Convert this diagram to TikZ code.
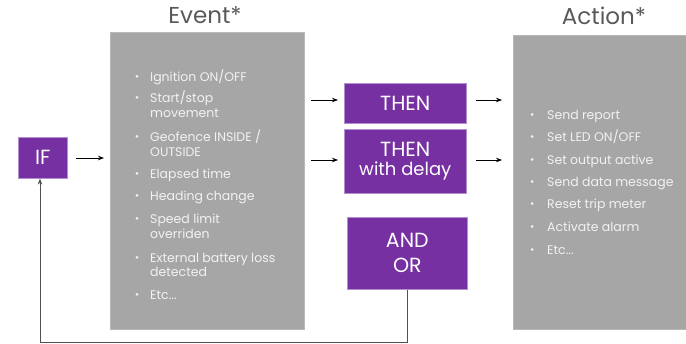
\documentclass[tikz,border=0pt]{standalone}
\usepackage{fontspec}
\setmainfont{Poppins}
\usetikzlibrary{arrows.meta}
\definecolor{boxgray}{HTML}{A6A6A6}
\definecolor{listtext}{HTML}{F2F2F2}
\definecolor{logicpurple}{HTML}{7630A2}
\definecolor{logicedge}{HTML}{B18FD0}
\definecolor{titlegray}{HTML}{595959}
\definecolor{loopgray}{HTML}{505050}
\tikzset{
  panel/.style={fill=boxgray, draw=boxgray!80!white, line width=0.5pt, inner sep=0pt},
  logic/.style={fill=logicpurple, draw=logicedge, line width=0.6pt, inner sep=0pt,
    text=white, font=\fontsize{20.5}{23}\selectfont, align=center},
  title/.style={text=titlegray, font=\fontsize{23}{26}\selectfont, anchor=base},
  item/.style={text=listtext, font=\fontsize{12.5}{15}\selectfont, anchor=base west, inner sep=0pt},
  dot/.style={circle, fill=listtext, inner sep=0pt, minimum size=3pt},
  flow/.style={-{Stealth[length=6pt,width=4.5pt]}, line width=0.8pt, black},
  loop/.style={line width=0.8pt, loopgray}
}
\begin{document}
\begin{tikzpicture}[x=1pt,y=-1pt]
\useasboundingbox (0,0) rectangle (686,344);

% panels
\node[panel, minimum width=194pt, minimum height=297pt, anchor=north west] (event) at (110,32) {};
\node[panel, minimum width=174pt, minimum height=294pt, anchor=north west] (action) at (513,35) {};
\node[title] (eventtitle) at (205,24) {Event*};
\node[title] (actiontitle) at (604,25) {Action*};

% logic blocks
\node[logic, minimum width=49pt, minimum height=41pt, anchor=north west] (if) at (18,137) {IF};
\node[logic, minimum width=122pt, minimum height=40pt, anchor=north west] (then) at (344,83) {THEN};
\node[logic, minimum width=122pt, minimum height=64pt, anchor=north west] (thend) at (344,129)
  {THEN\\[-4pt]{\fontsize{18}{20}\selectfont with delay}};
\node[logic, minimum width=120pt, minimum height=72pt, anchor=north west] (andor) at (347,217)
  {AND\\[2pt]OR};

% arrows
\coordinate (a1s) at (76,158);  \coordinate (a1e) at (104,158);
\coordinate (a2s) at (311,100); \coordinate (a2e) at (338,100);
\coordinate (a3s) at (311,160); \coordinate (a3e) at (338,160);
\coordinate (a4s) at (476,100); \coordinate (a4e) at (502,100);
\coordinate (a5s) at (476,160); \coordinate (a5e) at (502,160);
\draw[flow] (a1s) -- (a1e);
\draw[flow] (a2s) -- (a2e);
\draw[flow] (a3s) -- (a3e);
\draw[flow] (a4s) -- (a4e);
\draw[flow] (a5s) -- (a5e);

% feedback loop
\coordinate (lr) at (407,342.5);
\coordinate (ll) at (40,342.5);
\draw[loop] (andor.south -| lr) -- (lr) -- (ll);
\draw[loop, -{Stealth[length=6pt,width=4.5pt]}] (ll) -- (ll |- if.south);

% event list
\foreach \y in {82,103,142,179,201,224,263,300}
  \node[dot] at (137,\y-5.5) {};
\node[item] (e1) at (150,82) {Ignition ON/OFF};
\node[item] (e2) at (150,103) {Start/stop};
\node[item] (e2b) at (150,118) {movement};
\node[item] (e3) at (150,142) {Geofence INSIDE /};
\node[item] (e3b) at (150,157) {OUTSIDE};
\node[item] (e4) at (150,179) {Elapsed time};
\node[item] (e5) at (150,201) {Heading change};
\node[item] (e6) at (150,224) {Speed limit};
\node[item] (e6b) at (150,239) {overriden};
\node[item] (e7) at (150,263) {External battery loss};
\node[item] (e7b) at (150,277) {detected};
\node[item] (e8) at (150,300) {Etc...};

% action list
\foreach \y in {120,142,165,187,209,232,255}
  \node[dot] at (532,\y-5.5) {};
\node[item] (r1) at (547,120) {Send report};
\node[item] (r2) at (547,142) {Set LED ON/OFF};
\node[item] (r3) at (547,165) {Set output active};
\node[item] (r4) at (547,187) {Send data message};
\node[item] (r5) at (547,209) {Reset trip meter};
\node[item] (r6) at (547,232) {Activate alarm};
\node[item] (r7) at (547,255) {Etc...};
\end{tikzpicture}
\end{document}
